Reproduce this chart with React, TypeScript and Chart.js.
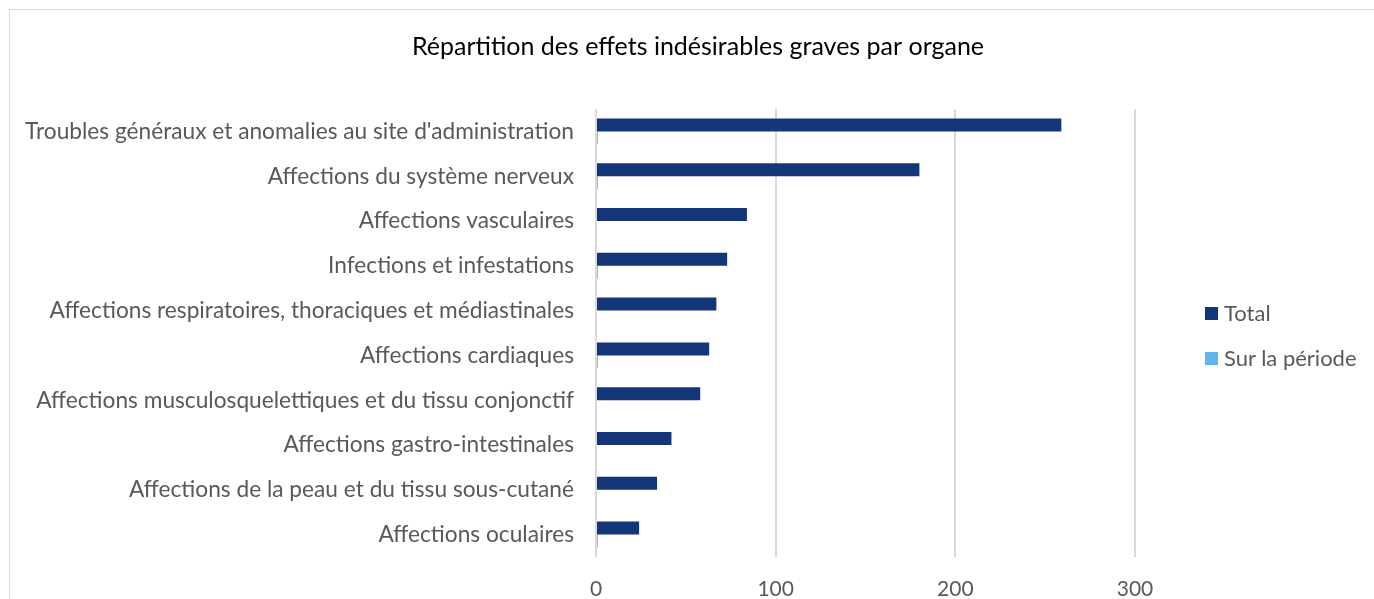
import React, { useEffect, useRef } from "react";
import { Chart, registerables } from "chart.js";

Chart.register(...registerables);

const categories = [
  "Troubles généraux et anomalies au site d'administration",
  "Affections du système nerveux",
  "Affections vasculaires",
  "Infections et infestations",
  "Affections respiratoires, thoraciques et médiastinales",
  "Affections cardiaques",
  "Affections musculosquelettiques et du tissu conjonctif",
  "Affections gastro-intestinales",
  "Affections de la peau et du tissu sous-cutané",
  "Affections oculaires",
];
const totalValues = [259, 180, 84, 73, 67, 63, 58, 42, 34, 24];
const periodValues = [1, 1, 0, 1, 0, 1, 0, 0, 0, 1];
const seriesNames = ["Total", "Sur la période"];
const seriesColors = ["#133679", "#5DB7EE"];
const xTicks = [0, 100, 200, 300];
const titleText = "Répartition des effets indésirables graves par organe";

const FONT = "Lato, 'Open Sans', sans-serif";
const TEXT = "#595959";

export default function App() {
  const ref = useRef<HTMLCanvasElement | null>(null);

  useEffect(() => {
    if (!ref.current) return;
    const chart = new Chart(ref.current, {
      type: "bar",
      data: {
        labels: categories,
        datasets: [
          {
            label: seriesNames[0],
            data: totalValues,
            backgroundColor: seriesColors[0],
            borderWidth: 0,
            categoryPercentage: 0.58,
            barPercentage: 1,
          },
          {
            label: seriesNames[1],
            data: periodValues,
            backgroundColor: seriesColors[1],
            borderWidth: 0,
            categoryPercentage: 0.58,
            barPercentage: 1,
          },
        ],
      },
      options: {
        indexAxis: "y",
        animation: false,
        responsive: false,
        layout: { padding: { left: 0, right: 0, top: 0, bottom: 9 } },
        plugins: {
          legend: { display: false },
          tooltip: { enabled: false },
          title: {
            display: true,
            text: titleText,
            color: "#000000",
            font: { family: FONT, size: 25, weight: "normal", lineHeight: 1.2 },
            padding: { top: 22, bottom: 47 },
          },
        },
        scales: {
          x: {
            min: 0,
            max: 300,
            afterBuildTicks: (scale: any) => {
              scale.ticks = xTicks.map((v) => ({ value: v }));
            },
            afterFit: (scale: any) => {
              scale.height = 44;
            },
            grid: { color: "#d9d9d9", lineWidth: 2, drawTicks: false },
            border: { display: false },
            ticks: {
              color: TEXT,
              font: { family: FONT, size: 21, lineHeight: 1.2 },
              padding: 20,
            },
          },
          y: {
            grid: { display: false, drawTicks: false },
            border: { display: false },
            afterFit: (scale: any) => {
              scale.width = 586;
            },
            ticks: {
              color: TEXT,
              font: { family: FONT, size: 22.7 },
              padding: 22,
              autoSkip: false,
            },
          },
          legendSpace: {
            type: "category",
            position: "right",
            display: true,
            grid: { display: false, drawTicks: false },
            border: { display: false },
            ticks: { display: false },
            afterFit: (scale: any) => {
              scale.width = 251;
            },
          },
        },
      },
    });
    return () => chart.destroy();
  }, []);

  const legendItem = (i: number, top: number) => (
    <div
      style={{
        position: "absolute",
        left: 1195,
        top,
        display: "flex",
        alignItems: "center",
        fontFamily: FONT,
        fontSize: 22,
        color: TEXT,
        whiteSpace: "nowrap",
        lineHeight: "26px",
      }}
    >
      <span
        style={{
          display: "inline-block",
          width: 13,
          height: 13,
          background: seriesColors[i],
          marginRight: 6,
        }}
      />
      {seriesNames[i]}
    </div>
  );

  return (
    <div style={{ position: "fixed", inset: 0, overflow: "hidden", background: "#fff" }}>
      <div
        style={{
          position: "absolute",
          left: 9,
          top: 9,
          width: 1376,
          height: 600,
          border: "1px solid #d9d9d9",
        }}
      >
        <canvas ref={ref} width={1376} height={600} style={{ display: "block" }} />
        {legendItem(0, 290)}
        {legendItem(1, 335)}
      </div>
    </div>
  );
}
